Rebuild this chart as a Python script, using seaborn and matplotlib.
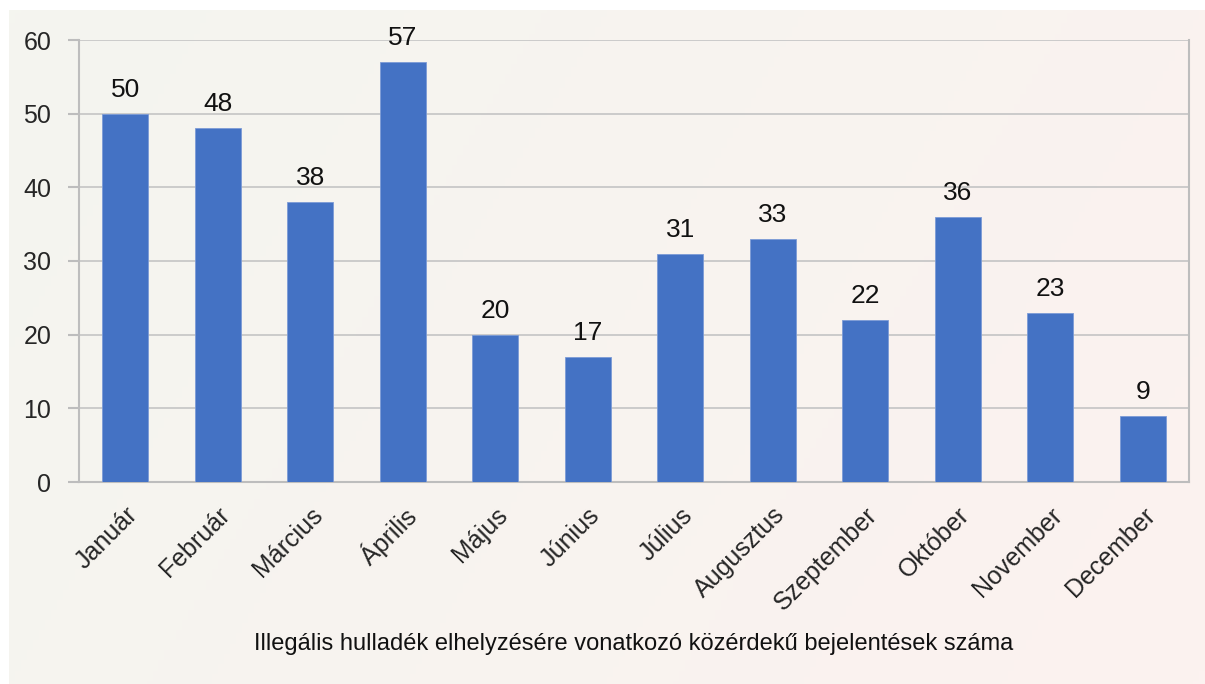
import matplotlib
matplotlib.use("Agg")
import matplotlib.pyplot as plt
import numpy as np
import pandas as pd
import seaborn as sns
from matplotlib.colors import LinearSegmentedColormap

# data
months = ["Január", "Február", "Március", "Április", "Május", "Június",
          "Július", "Augusztus", "Szeptember", "Október", "November", "December"]
counts = [50, 48, 38, 57, 20, 17, 31, 33, 22, 36, 23, 9]
xlabel = "Illegális hulladék elhelyzésére vonatkozó közérdekű bejelentések száma"

df = pd.DataFrame({"month": months, "count": counts})

sns.set_style("white")
plt.rcParams["font.family"] = ["Liberation Sans", "DejaVu Sans"]

fig = plt.figure(figsize=(12.05, 6.84), dpi=100)
fig.patch.set_facecolor("white")

# gradient panel behind the chart
bg = fig.add_axes([9 / 1205, 0, 1 - 9 / 1205, 1 - 10 / 684], zorder=0)
gx, gy = np.meshgrid(np.linspace(0, 1, 200), np.linspace(0, 1, 200))
grad = 0.75 * gx + 0.25 * gy
bg_cmap = LinearSegmentedColormap.from_list("bg", ["#F4F5EF", "#FCF2F0"])
bg.imshow(grad, cmap=bg_cmap, aspect="auto", extent=[0, 1, 0, 1], origin="upper")
bg.axis("off")

ax = fig.add_axes([79 / 1205, 1 - 482 / 684, (1189 - 79) / 1205, (482 - 40) / 684], zorder=1)
ax.set_facecolor("none")

sns.barplot(data=df, x="month", y="count", color="#4472C4", width=0.5,
            saturation=1, edgecolor="#7C9BD6", linewidth=0.6, ax=ax, zorder=3)

# data labels
for i, v in enumerate(counts):
    ax.text(i, v + 2.3, str(v), ha="center", va="baseline", fontsize=19, color="#111111")

ax.set_ylim(0, 60)
ax.set_xlim(-0.5, len(months) - 0.5)
ax.set_yticks(range(0, 61, 10))
ax.yaxis.grid(True, color="#C4C4C4", linewidth=1.2, zorder=0)
ax.set_axisbelow(True)

for side in ["left", "bottom", "right"]:
    ax.spines[side].set_color("#BDBDBD")
    ax.spines[side].set_linewidth(1.5)
ax.spines["top"].set_visible(False)

ax.set_xticks(range(len(months)))
ax.set_xticklabels(months, rotation=45, ha="right", rotation_mode="anchor", fontsize=18)
ax.set_xticks(np.arange(-0.5, len(months), 1), minor=True)
ax.tick_params(axis="x", which="major", length=0, pad=15)
ax.tick_params(axis="x", which="minor", length=8, width=1.5, color="#BDBDBD", direction="out")
ax.tick_params(axis="y", length=8, width=1.5, color="#BDBDBD", labelsize=18, pad=12, left=True)

ax.set_ylabel("")
ax.set_xlabel("")
fig.text((79 + 1189) / 2 / 1205, 1 - 644 / 684, xlabel, ha="center", va="center",
         fontsize=17, color="#111111")

fig.savefig("out.png", dpi=100)
